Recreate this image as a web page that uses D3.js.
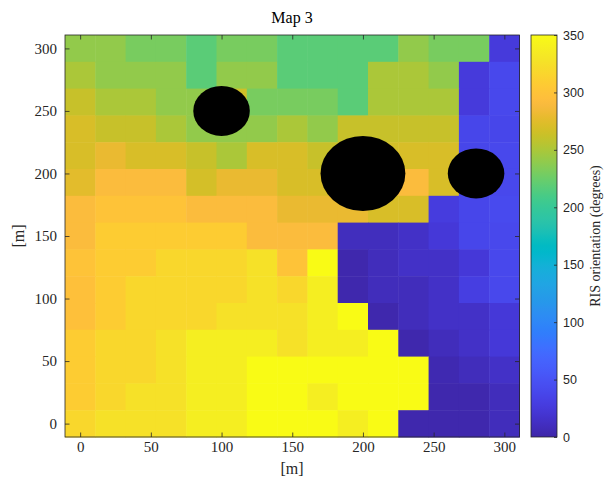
<!DOCTYPE html>
<html>
<head>
<meta charset="utf-8">
<script src="https://cdn.jsdelivr.net/npm/d3@7"></script>
<style>
body { margin: 0; background: #fff; }
svg { display: block; }
</style>
</head>
<body>
<div id="chart"></div>
<script>
// cell centres (m)
const xCenters = [0, 21.43, 42.86, 64.29, 85.71, 107.14, 128.57, 150, 171.43, 192.86, 214.29, 235.71, 257.14, 278.57, 300]
const yCenters = [300, 278.57, 257.14, 235.71, 214.29, 192.86, 171.43, 150, 128.57, 107.14, 85.71, 64.29, 42.86, 21.43, 0]

// RIS orientation (degrees), one row per yCenter, top row first
const orientation = [
	[240, 240, 230, 230, 218, 230, 230, 218, 218, 218, 218, 240, 230, 230, 26],
	[250, 240, 240, 240, 218, 240, 240, 218, 218, 218, 250, 250, 240, 26, 40],
	[262, 250, 250, 240, 240, 265, 230, 230, 230, 218, 250, 250, 250, 26, 40],
	[270, 262, 262, 250, 240, 240, 240, 250, 240, 262, 262, 262, 262, 38, 38],
	[270, 280, 270, 270, 262, 250, 270, 270, 262, 266, 268, 270, 270, 38, 40],
	[276, 292, 292, 292, 268, 280, 280, 270, 270, 275, 280, 292, 270, 38, 40],
	[292, 300, 300, 300, 292, 292, 292, 280, 280, 280, 270, 270, 28, 38, 42],
	[292, 308, 308, 308, 308, 308, 292, 292, 292, 10, 10, 15, 24, 38, 40],
	[300, 308, 308, 318, 318, 318, 326, 300, 350, 2, 9, 15, 15, 24, 40],
	[297, 308, 318, 318, 318, 318, 326, 318, 338, 2, 9, 9, 15, 30, 40],
	[297, 308, 318, 318, 318, 326, 326, 326, 338, 350, 2, 9, 15, 15, 24],
	[308, 318, 318, 326, 338, 338, 338, 326, 338, 338, 350, 2, 9, 15, 24],
	[308, 318, 318, 326, 338, 338, 350, 350, 350, 350, 350, 350, 4, 9, 15],
	[308, 318, 326, 326, 338, 338, 350, 350, 338, 350, 350, 350, 2, 2, 9],
	[318, 326, 326, 326, 338, 338, 350, 350, 350, 338, 350, 2, 2, 2, 9],
]

// obstacles
const obstacleX = [100, 200, 280]
const obstacleY = [250, 200, 200]
const obstacleR = [20, 30, 20]

const axisTicks = [0, 50, 100, 150, 200, 250, 300]
const colorTicks = [0, 50, 100, 150, 200, 250, 300, 350]

// MATLAB parula
const parulaRGB = [
	[0.2422, 0.1504, 0.6603], [0.2504, 0.165, 0.7076], [0.2578, 0.1818, 0.7511], [0.2647, 0.1978, 0.7952],
	[0.2706, 0.2147, 0.8364], [0.2751, 0.2342, 0.871], [0.2783, 0.2559, 0.8991], [0.2803, 0.2782, 0.9221],
	[0.2813, 0.3006, 0.9414], [0.281, 0.3228, 0.9579], [0.2795, 0.3447, 0.9717], [0.276, 0.3667, 0.9829],
	[0.2699, 0.3892, 0.9906], [0.2602, 0.4123, 0.9952], [0.244, 0.4358, 0.9988], [0.2206, 0.4603, 0.9973],
	[0.1963, 0.4847, 0.9892], [0.1834, 0.5074, 0.9798], [0.1786, 0.5289, 0.9682], [0.1764, 0.5499, 0.952],
	[0.1687, 0.5703, 0.9359], [0.154, 0.5902, 0.9218], [0.146, 0.6091, 0.9079], [0.138, 0.6276, 0.8973],
	[0.1248, 0.6459, 0.8883], [0.1113, 0.6635, 0.8763], [0.0952, 0.6798, 0.8598], [0.0689, 0.6948, 0.8394],
	[0.0297, 0.7082, 0.8163], [0.0036, 0.7203, 0.7917], [0.0067, 0.7312, 0.766], [0.0433, 0.7411, 0.7394],
	[0.0964, 0.75, 0.712], [0.1408, 0.7584, 0.6842], [0.1717, 0.767, 0.6554], [0.1938, 0.7758, 0.6251],
	[0.2161, 0.7843, 0.5923], [0.247, 0.7918, 0.5567], [0.2906, 0.7973, 0.5188], [0.3406, 0.8008, 0.4789],
	[0.3909, 0.8029, 0.4354], [0.4456, 0.8024, 0.3909], [0.5044, 0.7993, 0.348], [0.5616, 0.7942, 0.3045],
	[0.6174, 0.7876, 0.2612], [0.672, 0.7793, 0.2227], [0.7242, 0.7698, 0.191], [0.7738, 0.7598, 0.1646],
	[0.8203, 0.7498, 0.1535], [0.8634, 0.7406, 0.1596], [0.9035, 0.733, 0.1774], [0.9393, 0.7288, 0.21],
	[0.9728, 0.7298, 0.2394], [0.9956, 0.7434, 0.2371], [0.997, 0.7659, 0.2199], [0.9952, 0.7893, 0.2028],
	[0.9892, 0.8136, 0.1885], [0.9786, 0.8386, 0.1766], [0.9676, 0.8639, 0.1643], [0.961, 0.889, 0.1537],
	[0.9597, 0.9135, 0.1423], [0.9628, 0.9373, 0.1265], [0.9691, 0.9606, 0.1064], [0.9769, 0.9839, 0.0805],
]
const parula = d3.piecewise(d3.interpolateRgb, parulaRGB.map(c => d3.rgb(c[0] * 255, c[1] * 255, c[2] * 255)))

const width = 608, height = 482
const serif = "'Liberation Serif', 'Times New Roman', serif"
const sans = "'Liberation Sans', Arial, sans-serif"
const axisColor = "#262626"

const half = (xCenters[1] - xCenters[0]) / 2
const x = d3.scaleLinear().domain([xCenters[0] - half, xCenters[14] + half]).range([65, 519.5])
const y = d3.scaleLinear().domain([yCenters[14] - half, yCenters[0] + half]).range([437, 35])
const color = d3.scaleSequential(parula).domain([0, 350])

const svg = d3.select("#chart").append("svg").attr("width", width).attr("height", height)

// cells
const cells = []
orientation.forEach((row, i) => row.forEach((v, j) => cells.push({ cx: xCenters[j], cy: yCenters[i], v })))

svg.append("g")
	.selectAll("rect")
	.data(cells)
	.enter()
	.append("rect")
	.attr("x", d => x(d.cx - half))
	.attr("y", d => y(d.cy + half))
	.attr("width", x(2 * half) - x(0) + 0.5)
	.attr("height", y(0) - y(2 * half) + 0.5)
	.attr("fill", d => color(d.v))

// obstacles
svg.append("g")
	.selectAll("ellipse")
	.data(obstacleX.map((cx, i) => ({ cx, cy: obstacleY[i], r: obstacleR[i] })))
	.enter()
	.append("ellipse")
	.attr("cx", d => x(d.cx))
	.attr("cy", d => y(d.cy))
	.attr("rx", d => x(d.r) - x(0))
	.attr("ry", d => y(0) - y(d.r))
	.attr("fill", "#000")

// axes
const tickLen = 4.5
const styleAxis = g => {
	g.select(".domain").remove()
	g.selectAll("line").attr("stroke", axisColor).attr("stroke-width", 0.8)
	g.selectAll("text").attr("fill", axisColor).style("font-family", serif).style("font-size", "15px")
}
svg.append("g").attr("transform", "translate(0,437)")
	.call(d3.axisBottom(x).tickValues(axisTicks).tickSizeInner(-tickLen).tickSizeOuter(0).tickPadding(4))
	.call(styleAxis)
svg.append("g").attr("transform", "translate(0,35)")
	.call(d3.axisTop(x).tickValues(axisTicks).tickSizeInner(-tickLen).tickSizeOuter(0).tickFormat(""))
	.call(styleAxis)
svg.append("g").attr("transform", "translate(65,0)")
	.call(d3.axisLeft(y).tickValues(axisTicks).tickSizeInner(-tickLen).tickSizeOuter(0).tickPadding(8))
	.call(styleAxis)
svg.append("g").attr("transform", "translate(519.5,0)")
	.call(d3.axisRight(y).tickValues(axisTicks).tickSizeInner(-tickLen).tickSizeOuter(0).tickFormat(""))
	.call(styleAxis)

svg.append("rect")
	.attr("x", 65).attr("y", 35).attr("width", 454.5).attr("height", 402)
	.attr("fill", "none").attr("stroke", axisColor).attr("stroke-width", 0.8)

// labels
svg.append("text").attr("x", 292).attr("y", 23).attr("text-anchor", "middle")
	.style("font-family", serif).style("font-size", "16px").attr("fill", "#000").text("Map 3")
svg.append("text").attr("x", 292).attr("y", 474).attr("text-anchor", "middle")
	.style("font-family", serif).style("font-size", "16px").attr("fill", axisColor).text("[m]")
svg.append("text").attr("transform", "translate(24,236) rotate(-90)").attr("text-anchor", "middle")
	.style("font-family", serif).style("font-size", "16px").attr("fill", axisColor).text("[m]")

// colorbar
const cb = d3.scaleLinear().domain([0, 350]).range([437, 35])
const grad = svg.append("defs").append("linearGradient").attr("id", "parula")
	.attr("x1", 0).attr("y1", 1).attr("x2", 0).attr("y2", 0)
grad.selectAll("stop")
	.data(parulaRGB)
	.enter()
	.append("stop")
	.attr("offset", (d, i) => i / (parulaRGB.length - 1))
	.attr("stop-color", d => d3.rgb(d[0] * 255, d[1] * 255, d[2] * 255))

svg.append("rect").attr("x", 531).attr("y", 35).attr("width", 26).attr("height", 402)
	.attr("fill", "url(#parula)").attr("stroke", axisColor).attr("stroke-width", 0.8)

svg.append("g").attr("transform", "translate(557,0)")
	.call(d3.axisRight(cb).tickValues(colorTicks).tickSizeInner(-3).tickSizeOuter(0).tickPadding(6))
	.call(g => {
		g.select(".domain").remove()
		g.selectAll("line").attr("stroke", axisColor).attr("stroke-width", 0.8)
		g.selectAll("text").attr("fill", axisColor).style("font-family", sans).style("font-size", "12.5px")
	})

svg.append("text").attr("transform", "translate(600,236) rotate(-90)").attr("text-anchor", "middle")
	.style("font-family", serif).style("font-size", "14px").attr("fill", axisColor).text("RIS orientation (degrees)")
</script>
</body>
</html>
